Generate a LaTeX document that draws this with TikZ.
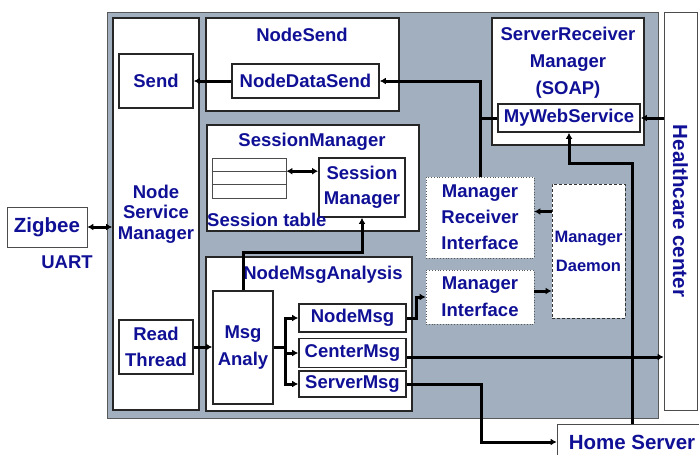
\documentclass[tikz,border=0pt]{standalone}
\usepackage{fontspec}
\setmainfont{Liberation Sans}
\usetikzlibrary{arrows.meta,calc}
\definecolor{panelgray}{RGB}{162,175,190}
\definecolor{labelblue}{RGB}{16,16,150}
\tikzset{
  labeltext/.style={text=labelblue,inner sep=0pt,align=center,font=\bfseries\fontsize{18.5}{26}\selectfont},
  box/.style={labeltext,draw=black!85,line width=1.8pt,fill=white},
  plainbox/.style={labeltext,draw=gray!60!black,line width=0.8pt,fill=white,font=\bfseries\fontsize{20.5}{24}\selectfont},
  dotbox/.style={box,draw=gray!70!black,line width=0.8pt,dotted},
  dashbox/.style={box,draw=black!80,line width=0.9pt,dash pattern=on 3pt off 2pt},
  link/.style={line width=3pt},
  arr/.style={link,-{Latex[length=6pt,width=7pt]}},
  dbl/.style={link,{Latex[length=6pt,width=7pt]}-{Latex[length=6pt,width=7pt]}}
}
\begin{document}
\begin{tikzpicture}[x=1pt,y=-1pt]
\useasboundingbox (0,0) rectangle (699,455);
% backdrop
\fill[panelgray,draw=gray!70!black,line width=0.6pt] (107,12) rectangle (658,418);

% outside
\node[plainbox,minimum width=33pt,minimum height=398pt] (hc) at (680.5,211) {};
\node[labeltext,font=\bfseries\fontsize{20.5}{24}\selectfont,rotate=-90] (hctxt) at (hc.center) {Healthcare center};
\node[plainbox,minimum width=150pt,minimum height=36pt] (hs) at (632,442) {Home Server};
\node[plainbox,minimum width=80pt,minimum height=40pt] (zb) at (47,227) {Zigbee};
\node[labeltext] (uart) at (67,262) {UART};

% node service manager
\node[box,minimum width=86pt,minimum height=392pt,font=\bfseries\fontsize{18.5}{20.5}\selectfont] (nsm) at (156,214) {Node\\Service\\Manager};
\node[box,minimum width=74pt,minimum height=54pt] (send) at (156,81) {Send};
\node[box,minimum width=74pt,minimum height=54pt] (rth) at (156,347) {Read\\Thread};

% node send
\node[box,minimum width=193pt,minimum height=93pt] (nsend) at (302.5,64.5) {};
\node[labeltext] (nsendt) at (302,35) {NodeSend};
\node[box,minimum width=147pt,minimum height=34pt] (nds) at (305.5,81) {NodeDataSend};

% server receiver
\node[box,minimum width=152pt,minimum height=127pt] (srm) at (568,81.5) {};
\node[labeltext,font=\bfseries\fontsize{18.5}{27}\selectfont] (srmt) at (568,63) {ServerReceiver\\Manager\\(SOAP)};
\node[box,minimum width=142pt,minimum height=28pt] (mws) at (569,118) {MyWebService};

% session manager
\node[box,minimum width=212pt,minimum height=106pt] (sess) at (313,178) {};
\node[labeltext] (sesst) at (312,142) {SessionManager};
\node[draw=black!70,fill=white,line width=0.8pt,minimum width=74pt,minimum height=40pt] (stab) at (249,178) {};
\draw[black!70,line width=0.8pt] ($(stab.north west)!1/3!(stab.south west)$) -- ($(stab.north east)!1/3!(stab.south east)$);
\draw[black!70,line width=0.8pt] ($(stab.north west)!2/3!(stab.south west)$) -- ($(stab.north east)!2/3!(stab.south east)$);
\node[box,minimum width=86pt,minimum height=59pt,font=\bfseries\fontsize{18.5}{25}\selectfont] (smgr) at (362,187.5) {Session\\Manager};
\node[labeltext,anchor=west] (stabt) at (207,220) {Session table};

% node msg analysis
\node[box,minimum width=206pt,minimum height=154pt] (nma) at (309,334) {};
\node[labeltext] (nmat) at (323,275) {NodeMsgAnalysis};
\node[box,minimum width=60pt,minimum height=113pt,font=\bfseries\fontsize{18.5}{27}\selectfont] (ma) at (243,347.5) {Msg\\Analy};
\node[box,minimum width=107pt,minimum height=28pt] (nmsg) at (352.5,318) {NodeMsg};
\node[box,minimum width=107pt,minimum height=29pt] (cmsg) at (352.5,353) {CenterMsg};
\node[box,minimum width=107pt,minimum height=26pt] (smsg) at (352.5,384) {ServerMsg};

% manager side
\node[dotbox,minimum width=108pt,minimum height=81pt] (mri) at (480,217.5) {Manager\\Receiver\\Interface};
\node[dotbox,minimum width=108pt,minimum height=54pt,font=\bfseries\fontsize{18.5}{27}\selectfont] (mi) at (480,297) {Manager\\Interface};
\node[dashbox,minimum width=73pt,minimum height=134pt,font=\bfseries\fontsize{16.5}{29}\selectfont] (md) at (588.5,251) {Manager\\Daemon};

% connectors
\draw[dbl] (zb.east) -- (zb.east -| nsm.west);
\draw[arr] (nds.west) -- (send.east);
\draw[arr] (mri.north) |- (nds.east);
\draw[link] (mws.west) -- (mws.west -| mri.north);
\draw[arr] (hc.west |- mws.east) -- (mws.east);
\draw[arr] (hs.north) |- ($(mws.south)+(0,31)$) -| (mws.south);
\coordinate (rowa) at ($(stab.north east)!1/3!(stab.south east)$);
\draw[dbl] (rowa) -- (rowa -| smgr.west);
\draw[arr] (ma.north) |- ($(smgr.south)+(0,35)$) -| (smgr.south);
\draw[arr] (rth.east) -- (rth.east -| ma.west);
\coordinate (fork) at ($(ma.east)+(12,0)$);
\draw[link] (ma.east) -- (fork);
\draw[arr] (fork) |- (nmsg.west);
\draw[arr] (fork) |- (cmsg.west);
\draw[arr] (fork) |- (smsg.west);
\draw[arr] (nmsg.east) -- ++(10,0) |- (mi.west);
\draw[arr] ([yshift=6pt]mi.east) -- ([yshift=6pt]mi.east -| md.west);
\draw[arr] ([yshift=6pt]mri.east -| md.west) -- ([yshift=6pt]mri.east);
\draw[arr] ([yshift=-4pt]cmsg.east) -- ([yshift=-4pt]cmsg.east -| hc.west);
\draw[arr] (smsg.east) -- ++(75,0) |- (hs.west);
\end{tikzpicture}
\end{document}
